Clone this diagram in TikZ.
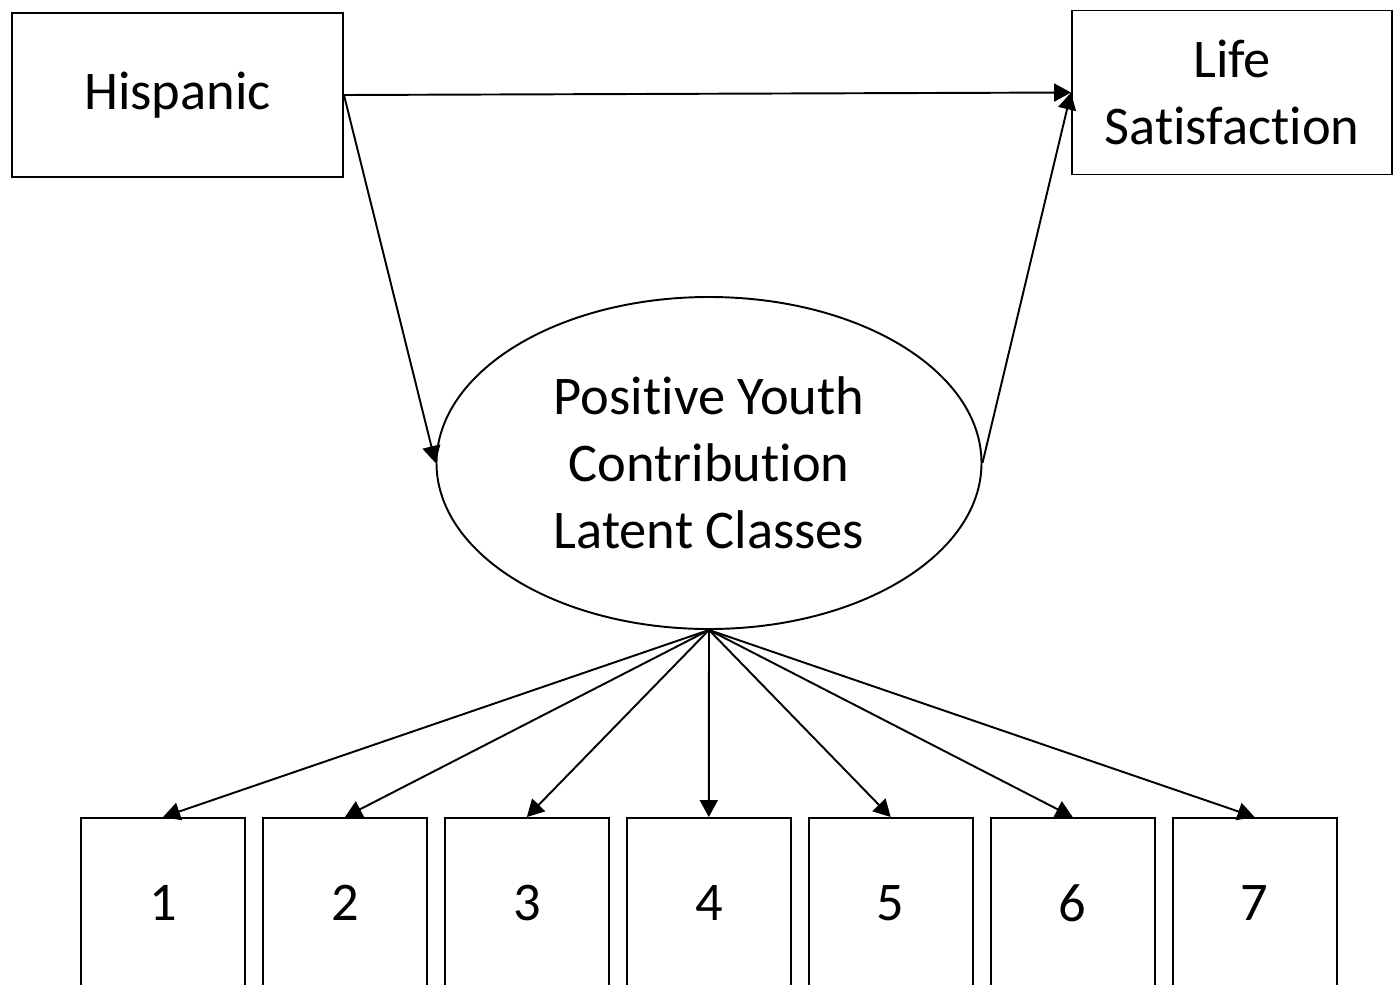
\documentclass[tikz,border=0pt]{standalone}
\usepackage{fontspec}
\setmainfont{Carlito}[Ligatures=NoCommon]
\usetikzlibrary{positioning, arrows.meta, shapes.geometric}

\begin{document}
\begin{tikzpicture}[
     node distance = 3.2mm and 3.2mm,
     line width = 1.1pt,
     >={Triangle[length=3.4mm, width=3.6mm]},
every node/.style = {font=\fontsize{31pt}{38pt}\selectfont, align=center},
        box/.style = {rectangle, draw, fill=#1, inner sep=0pt,
                     minimum width=66.2mm, minimum height=32.8mm},
       item/.style = {rectangle, draw, fill=white, inner sep=0pt,
                     minimum width=32.8mm, minimum height=34mm},
     latent/.style = {ellipse, draw, inner sep=0pt,
                     minimum width=109mm, minimum height=66.4mm}
                        ]
\useasboundingbox (0,0) rectangle (27.86,-19.68);
\node (hisp) [box=white] at (3.55,-1.9) {Hispanic};
\node (life) [box=white, minimum width=64mm] at (24.64,-1.85) {Life\\Satisfaction};
\node (pyc) [latent] at (14.18,-9.26) {Positive Youth\\Contribution\\Latent Classes};
\node (c1) [item] at (3.26,-18.06) {1};
\node (c2) [item, right=of c1] {2};
\node (c3) [item, right=of c2] {3};
\node (c4) [item, right=of c3] {4};
\node (c5) [item, right=of c4] {5};
\node (c6) [item, right=of c5] {6};
\node (c7) [item, right=of c6] {7};
\draw[->] (hisp.east) to (life.west);
\draw[->] (hisp.east) to (pyc.west);
\draw[->] (pyc.east) to (life.west);
\draw[->] (pyc.south) to (c1.north);
\draw[->] (pyc.south) to (c2.north);
\draw[->] (pyc.south) to (c3.north);
\draw[->] (pyc.south) to (c4.north);
\draw[->] (pyc.south) to (c5.north);
\draw[->] (pyc.south) to (c6.north);
\draw[->] (pyc.south) to (c7.north);
\end{tikzpicture}
\end{document}
